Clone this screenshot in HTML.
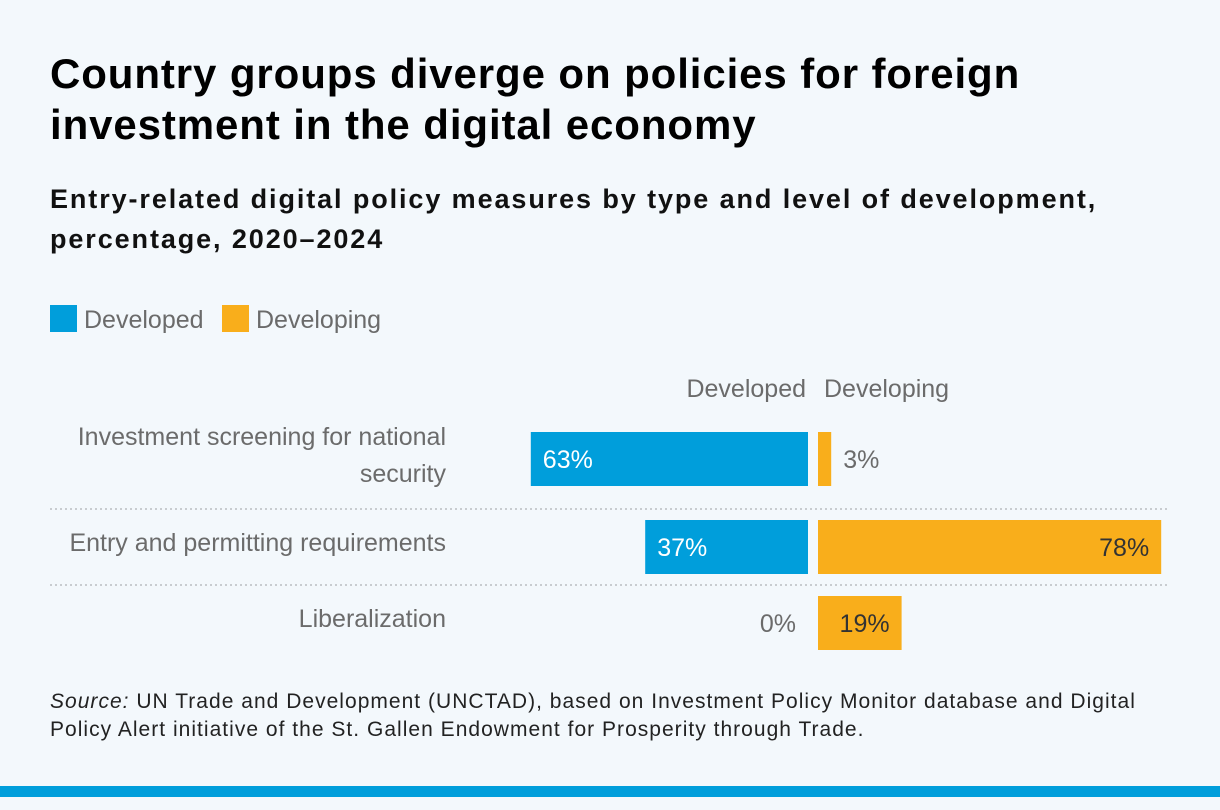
<!DOCTYPE html>
<html><head><meta charset="utf-8"><style>
body{margin:0;width:1220px;height:810px;background:#f3f8fc;font-family:"Liberation Sans",sans-serif;position:relative;overflow:hidden}
.t{position:absolute;left:50px;top:48px;font-size:42px;font-weight:bold;color:#000;line-height:51px;letter-spacing:0.9px}
.s{position:absolute;left:50px;top:179px;font-size:27px;font-weight:bold;color:#111;line-height:40px;letter-spacing:1.9px}
.src{position:absolute;left:50px;top:688px;font-size:21px;color:#222;line-height:28px;letter-spacing:1.02px}
.bot{position:absolute;left:0;top:786px;width:1220px;height:11px;background:#009edb}
svg{position:absolute;left:0;top:0}
svg text{font-family:"Liberation Sans",sans-serif}
</style></head><body>
<div class="t">Country groups diverge on policies for foreign<br>investment in the digital economy</div>
<div class="s">Entry-related digital policy measures by type and level of development,<br>percentage, 2020–2024</div>
<div class="src"><i>Source:</i> UN Trade and Development (UNCTAD), based on Investment Policy Monitor database and Digital<br>Policy Alert initiative of the St. Gallen Endowment for Prosperity through Trade.</div>
<div class="bot"></div>
<svg id="c" width="1220" height="810">
<rect x="50" y="305" width="27" height="27" fill="#009edb"/>
<text x="84" y="328" font-size="25" fill="#6b6b6b">Developed</text>
<rect x="222" y="305" width="27" height="27" fill="#f9ae1b"/>
<text x="256" y="328" font-size="25" fill="#6b6b6b">Developing</text>
<text x="806" y="397" font-size="25" fill="#6b6b6b" text-anchor="end">Developed</text>
<text x="824" y="397" font-size="25" fill="#6b6b6b">Developing</text>
<line x1="50" y1="509" x2="1168" y2="509" stroke="#c8ccd0" stroke-width="2" stroke-dasharray="2,3"/>
<line x1="50" y1="585" x2="1168" y2="585" stroke="#c8ccd0" stroke-width="2" stroke-dasharray="2,3"/>
</svg>
<script>
const categories=[["Investment screening for national","security"],["Entry and permitting requirements"],["Liberalization"]];
const developed=[63,37,0];
const developing=[3,78,19];
const svg=document.getElementById('c'),NS='http://www.w3.org/2000/svg';
const rowTop=[432,520,596],bh=54,k=4.4,xL=808,xR=818;
function mk(t,a){const e=document.createElementNS(NS,t);for(const q in a)e.setAttribute(q,a[q]);svg.appendChild(e);return e;}
categories.forEach((c,i)=>{
 const y=rowTop[i],cy=y+bh/2;
 if(c.length==2){
  const a=mk('text',{x:446,y:cy-14,'font-size':25,fill:'#6b6b6b','text-anchor':'end'});a.textContent=c[0];
  
  
  const b=mk('text',{x:446,y:cy+23,'font-size':25,fill:'#6b6b6b','text-anchor':'end'});b.textContent=c[1];
  
  
 } else {
  const a=mk('text',{x:446,y:cy+4,'font-size':25,fill:'#6b6b6b','text-anchor':'end'});a.textContent=c[0];
  
  
 }
 const w1=developed[i]*k;
 if(w1>0){const r=mk('rect',{x:xL-w1,y:y,width:w1,height:bh,fill:'#009edb'});
  
  }
 const l1=w1>60?mk('text',{x:xL-w1+12,y:cy+9,'font-size':25,fill:'#fff'}):mk('text',{x:xL-w1-12,y:cy+9,'font-size':25,fill:'#6b6b6b','text-anchor':'end'});
 l1.textContent=developed[i]+'%';
 
 
 const w2=developing[i]*k;
 const r2=mk('rect',{x:xR,y:y,width:w2,height:bh,fill:'#f9ae1b'});
 
 
 const l2=w2>60?mk('text',{x:xR+w2-12,y:cy+9,'font-size':25,fill:'#333','text-anchor':'end'}):mk('text',{x:xR+w2+12,y:cy+9,'font-size':25,fill:'#6b6b6b'});
 l2.textContent=developing[i]+'%';
 
 
});
</script>
</body></html>
